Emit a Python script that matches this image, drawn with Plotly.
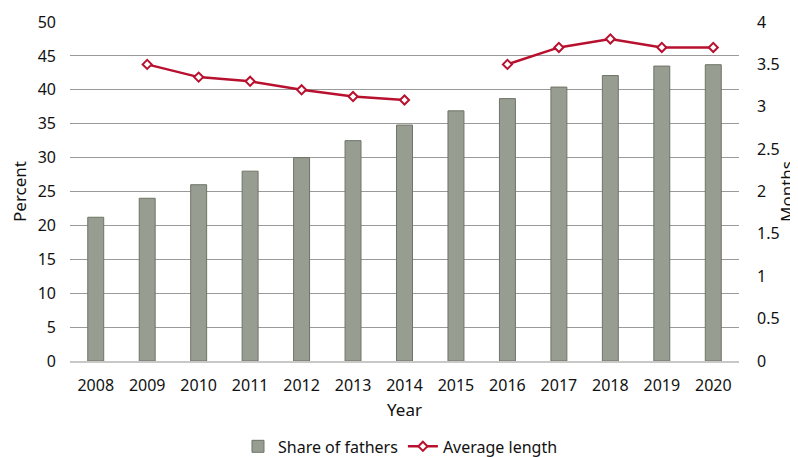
import plotly.graph_objects as go

years = ["2008", "2009", "2010", "2011", "2012", "2013", "2014",
         "2015", "2016", "2017", "2018", "2019", "2020"]
share_of_fathers = [21.2, 24.0, 26.0, 28.0, 30.0, 32.5, 34.8,
                    36.9, 38.7, 40.4, 42.1, 43.5, 43.7]
average_length = [None, 3.5, 3.35, 3.3, 3.2, 3.12, 3.08,
                  None, 3.5, 3.7, 3.8, 3.7, 3.7]

FONT = "Noto Sans"

fig = go.Figure()

fig.add_trace(go.Bar(
    x=years, y=share_of_fathers, name="Share of fathers",
    width=0.31,
    marker=dict(color="#979d90", line=dict(color="#6e7467", width=1)),
    yaxis="y",
))

fig.add_trace(go.Scatter(
    x=years, y=average_length, name="Average length",
    mode="lines+markers", connectgaps=False,
    line=dict(color="#b8102f", width=2.5),
    marker=dict(symbol="diamond", size=7, color="white",
                line=dict(color="#b8102f", width=2)),
    yaxis="y2",
))

# page body has an 8px margin, so the figure is sized 8px smaller
fig.update_layout(
    width=790, height=449,
    margin=dict(l=62, r=59, t=14, b=96, autoexpand=False),
    paper_bgcolor="white", plot_bgcolor="white",
    font=dict(family=FONT, size=16, color="#111111"),
    xaxis=dict(
        type="category", range=[-0.5, 12.5],
        showgrid=False, showline=True, automargin=False,
        linecolor="#c8c8c8", linewidth=2,
        tickfont=dict(size=16), ticks="", ticklabelstandoff=9,
        title=dict(text="Year", font=dict(size=17), standoff=9),
    ),
    yaxis=dict(
        range=[0, 50], dtick=5, showgrid=True, gridcolor="#9a9a9a",
        gridwidth=1, zeroline=False, showline=False, ticks="",
        automargin=False, ticklabelstandoff=13,
        tickfont=dict(size=16),
        title=dict(text="Percent", font=dict(size=17), standoff=11),
    ),
    yaxis3=dict(
        range=[0, 50], tickvals=[5, 10, 15, 20], showticklabels=False,
        showgrid=True, gridcolor="#2a2a2a", gridwidth=1,
        zeroline=False, overlaying="y", side="left", layer="below traces",
    ),
    yaxis2=dict(
        range=[0, 4], dtick=0.5, overlaying="y", side="right",
        showgrid=False, zeroline=False, ticks="", automargin=False,
        ticklabelstandoff=17, tickfont=dict(size=16),
        title=dict(text="Months", font=dict(size=17), standoff=18),
    ),
    legend=dict(
        orientation="h", x=0.494, xanchor="center", y=-0.252, yanchor="middle",
        font=dict(size=16), itemwidth=30, traceorder="normal",
    ),
)

fig.write_html("out.html")
